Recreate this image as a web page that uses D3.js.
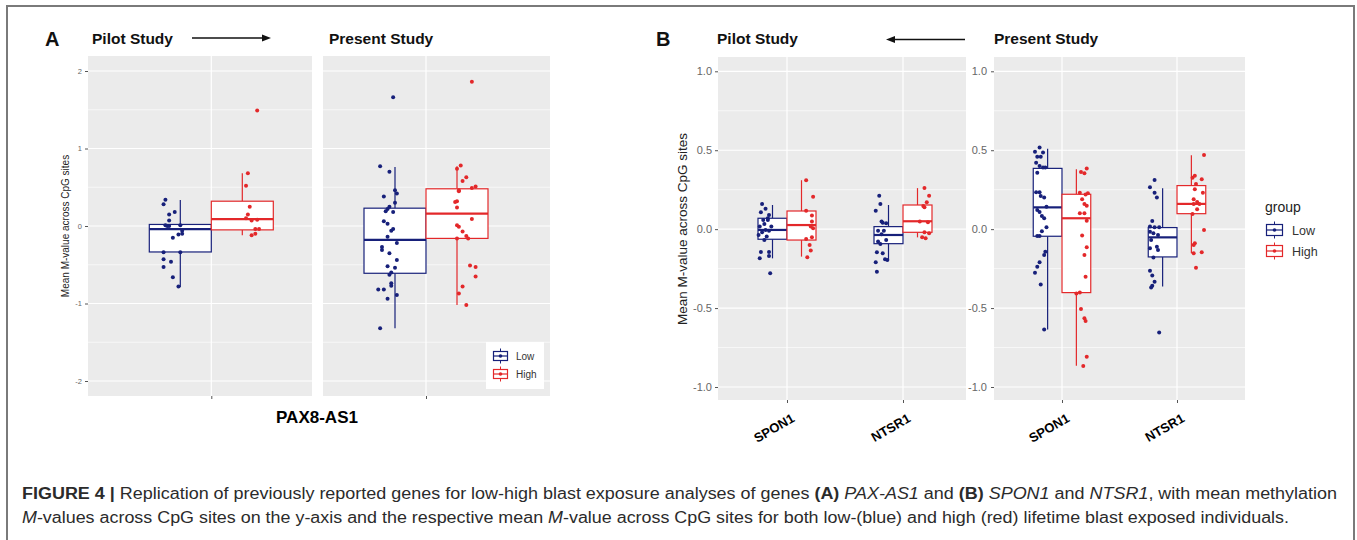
<!doctype html>
<html>
<head>
<meta charset="utf-8">
<script src="https://cdnjs.cloudflare.com/ajax/libs/d3/7.8.5/d3.min.js"></script>
<style>
  body { margin: 0; background: #fff; }
  svg { display: block; font-family: "Liberation Sans", Arial, sans-serif; }
</style>
<title>Figure 4</title>
</head>
<body>
<svg width="1357" height="540"></svg>
<script>
// ---- values ----
var groups = ["Low", "High"];
var genesB = ["SPON1", "NTSR1"];
var yTicksA = [-2, -1, 0, 1, 2];
var yMinorA = [-1.5, -0.5, 0.5, 1.5];
var yTicksB = [-1, -0.5, 0, 0.5, 1];
var yMinorB = [-0.75, -0.25, 0.25, 0.75];

// box stats: [lower whisker, Q1, median, Q3, upper whisker]
var paxPilotLowBox = [-0.79, -0.335, -0.04, 0.02, 0.335];
var paxPilotHighBox = [-0.12, -0.05, 0.09, 0.32, 0.68];
var paxPresentLowBox = [-1.32, -0.61, -0.18, 0.23, 0.76];
var paxPresentHighBox = [-1.02, -0.16, 0.16, 0.48, 0.77];
var spon1PilotLowBox = [-0.185, -0.064, -0.005, 0.069, 0.153];
var spon1PilotHighBox = [-0.174, -0.069, 0.026, 0.115, 0.31];
var ntsr1PilotLowBox = [-0.195, -0.092, -0.037, 0.016, 0.153];
var ntsr1PilotHighBox = [-0.052, -0.02, 0.05, 0.153, 0.26];
var spon1PresentLowBox = [-0.635, -0.045, 0.138, 0.385, 0.51];
var spon1PresentHighBox = [-0.865, -0.402, 0.069, 0.221, 0.379];
var ntsr1PresentLowBox = [-0.364, -0.176, -0.052, 0.01, 0.259];
var ntsr1PresentHighBox = [-0.153, 0.098, 0.16, 0.276, 0.468];

// jittered points: [jitter (category units), mean M-value]
var paxPilotLow = [[-0.08,0.34],[-0.09,0.28],[-0.03,0.18],[-0.06,0.15],[-0.06,0.07],[-0.08,0.01],[-0.07,0.00],[-0.06,0.00],[0.00,0.01],[0.01,-0.06],[0.01,-0.10],[-0.01,-0.11],[-0.04,-0.15],[-0.09,-0.34],[0.00,-0.34],[-0.09,-0.43],[-0.05,-0.46],[-0.09,-0.53],[-0.04,-0.66],[-0.01,-0.78]];
var paxPilotHigh = [[0.08,1.49],[0.03,0.68],[0.02,0.52],[0.04,0.25],[0.03,0.15],[0.02,0.10],[0.05,0.07],[0.08,0.08],[0.07,-0.04],[0.09,-0.04],[0.07,-0.10],[0.05,-0.12]];
var paxPresentLow = [[-0.01,1.66],[-0.08,0.77],[-0.03,0.70],[0,0.46],[0.01,0.42],[-0.06,0.38],[0,0.30],[-0.03,0.25],[-0.04,0.22],[-0.05,0.19],[-0.01,0.18],[-0.06,0.06],[-0.04,0.03],[-0.01,-0.04],[-0.02,-0.06],[-0.04,-0.14],[0.01,-0.22],[-0.07,-0.27],[-0.07,-0.31],[-0.03,-0.35],[0.01,-0.44],[-0.04,-0.52],[0,-0.54],[-0.03,-0.63],[-0.02,-0.60],[-0.02,-0.74],[-0.02,-0.77],[-0.09,-0.82],[-0.06,-0.82],[0.01,-0.89],[-0.04,-0.94],[-0.08,-1.32]];
var paxPresentHigh = [[0.08,1.86],[0.02,0.78],[0,0.74],[0.05,0.63],[0.03,0.58],[0.10,0.51],[0.08,0.49],[0.01,0.46],[0.01,0.45],[0,0.32],[-0.01,0.31],[0,0.24],[0.08,0.09],[0,0.01],[0.01,-0.01],[0.03,-0.07],[0.05,-0.13],[0.06,-0.16],[0,-0.16],[0.07,-0.51],[0.10,-0.53],[0.10,-0.65],[0.03,-0.78],[0.01,-0.87],[0.05,-1.02]];
var spon1PilotLow = [[-0.09,0.16],[-0.06,0.13],[-0.10,0.107],[-0.03,0.09],[-0.04,0.069],[-0.08,0.058],[-0.04,0.058],[-0.07,0.033],[-0.11,0.016],[-0.01,0.016],[-0.06,-0.005],[-0.03,-0.01],[-0.09,-0.02],[-0.12,-0.037],[-0.05,-0.047],[-0.07,-0.069],[-0.03,-0.145],[-0.10,-0.145],[-0.03,-0.17],[-0.11,-0.185],[-0.02,-0.28]];
var spon1PilotHigh = [[0.04,0.31],[0.10,0.206],[0.04,0.117],[0.09,0.086],[0.09,0.048],[0.08,0.016],[0.10,0.005],[0.04,-0.062],[0.09,-0.052],[0.07,-0.10],[0.08,-0.136],[0.05,-0.178]];
var ntsr1PilotLow = [[-0.08,0.212],[-0.07,0.16],[-0.11,0.117],[-0.06,0.048],[-0.05,0.041],[-0.02,0.037],[-0.09,-0.01],[-0.04,-0.01],[-0.06,-0.033],[-0.02,-0.069],[-0.09,-0.079],[-0.07,-0.094],[-0.10,-0.147],[-0.05,-0.153],[-0.01,-0.195],[-0.03,-0.19],[-0.11,-0.21],[-0.10,-0.27]];
var ntsr1PilotHigh = [[0.06,0.26],[0.10,0.212],[0.08,0.17],[0.05,0.147],[0.06,0.138],[0.02,0.048],[0.09,0.043],[0.06,-0.02],[0.10,-0.026],[0.04,-0.052],[0.07,-0.058]];
var spon1PresentLow = [[-0.07,0.518],[-0.11,0.491],[-0.04,0.485],[-0.09,0.459],[-0.06,0.459],[-0.10,0.42],[-0.07,0.40],[-0.04,0.39],[-0.02,0.39],[-0.09,0.357],[-0.10,0.233],[-0.07,0.233],[-0.06,0.21],[-0.03,0.20],[-0.01,0.142],[-0.09,0.121],[-0.07,0.109],[-0.05,0.083],[-0.03,0.069],[-0.01,0.012],[-0.05,-0.014],[-0.09,-0.043],[-0.07,-0.043],[-0.02,-0.143],[-0.03,-0.164],[-0.07,-0.21],[-0.09,-0.238],[-0.11,-0.276],[-0.06,-0.35],[-0.03,-0.635]];
var spon1PresentHigh = [[0.09,0.385],[0.04,0.362],[0.07,0.354],[0.03,0.231],[0.10,0.227],[0.08,0.219],[0.05,0.19],[0.07,0.16],[0.09,0.149],[0.03,0.10],[0.07,0.10],[0.09,0.054],[0.05,-0.041],[0.09,-0.115],[0.07,-0.164],[0.08,-0.301],[0.03,-0.402],[0,-0.407],[0.04,-0.506],[0.07,-0.565],[0.08,-0.582],[0.09,-0.808],[0.06,-0.867]];
var ntsr1PresentLow = [[-0.07,0.312],[-0.11,0.265],[-0.07,0.231],[-0.05,0.20],[-0.09,0.052],[-0.11,0.016],[-0.07,0.012],[-0.03,0.012],[-0.11,-0.016],[-0.08,-0.026],[-0.04,-0.037],[-0.10,-0.069],[-0.05,-0.111],[-0.11,-0.121],[-0.04,-0.132],[-0.08,-0.18],[-0.11,-0.263],[-0.09,-0.293],[-0.07,-0.333],[-0.09,-0.358],[-0.10,-0.369],[-0.03,-0.654]];
var ntsr1PresentHigh = [[0.11,0.47],[0.03,0.339],[0.01,0.326],[0.09,0.316],[0.04,0.286],[0.10,0.231],[0.03,0.252],[0.02,0.189],[0.05,0.172],[0.07,0.16],[0.02,0.16],[0.05,0.126],[0.01,0.096],[0.11,-0.005],[0.03,-0.09],[0.02,-0.10],[0.09,-0.147],[0.02,-0.153],[0.04,-0.244]];

var svg = d3.select("svg");
var colour = d3.scaleOrdinal().domain(groups).range(["#17207a", "#e3282a"]);

// figure frame
svg.append("path").attr("d", "M7,545V6H1354V545")
  .attr("fill", "none").attr("stroke", "#7a7a7a").attr("stroke-width", 2);

function drawPanel(p) {
  var g = svg.append("g");
  var x = d3.scaleLinear().domain([1, 2]).range(p.xRange);
  var y = d3.scaleLinear().domain(p.yDomain).range(p.yRange);

  g.append("rect")
    .attr("x", p.left).attr("y", p.top)
    .attr("width", p.right - p.left).attr("height", p.bottom - p.top)
    .attr("fill", "#ebebeb");

  g.selectAll(".minor").data(p.minor).enter().append("line")
    .attr("x1", p.left).attr("x2", p.right)
    .attr("y1", d => y(d)).attr("y2", d => y(d))
    .attr("stroke", "#fff").attr("stroke-width", 0.6);
  g.selectAll(".major").data(p.ticks).enter().append("line")
    .attr("x1", p.left).attr("x2", p.right)
    .attr("y1", d => y(d)).attr("y2", d => y(d))
    .attr("stroke", "#fff").attr("stroke-width", 1.2);
  g.selectAll(".vmajor").data(p.cats).enter().append("line")
    .attr("x1", d => x(d)).attr("x2", d => x(d))
    .attr("y1", p.top).attr("y2", p.bottom)
    .attr("stroke", "#fff").attr("stroke-width", 1.2);

  if (p.yAxis) {
    var ya = g.append("g").attr("transform", "translate(" + p.left + ",0)")
      .call(d3.axisLeft(y).tickValues(p.ticks).tickSize(3).tickPadding(p.tickPad)
        .tickFormat(p.fmt));
    ya.select(".domain").remove();
    ya.selectAll("line").attr("stroke", "#555");
    ya.selectAll("text").attr("fill", "#666").style("font-size", p.tickFont + "px")
      .style("font-family", "Liberation Sans, Arial, sans-serif");
  }

  var xa = g.append("g").attr("transform", "translate(0," + p.bottom + ")")
    .call(d3.axisBottom(x).tickValues(p.cats).tickSize(3)
      .tickFormat(p.catLabels ? (d => p.catLabels[d - 1]) : ""));
  xa.select(".domain").remove();
  xa.selectAll("line").attr("stroke", "#555");
  if (p.catLabels) {
    xa.selectAll("text")
      .attr("x", 0).attr("y", 0).attr("dy", 0)
      .attr("transform", "translate(8,21) rotate(-30)")
      .style("text-anchor", "end").style("font-size", "13px").style("font-weight", "bold")
      .style("font-family", "Liberation Sans, Arial, sans-serif").attr("fill", "#000");
  }

  p.boxes.forEach(function (b) {
    var c = colour(b.group);
    var sign = b.group === "Low" ? -1 : 1;
    var cx = b.cat + sign * p.dodge;
    var s = b.stats;
    g.append("line").attr("x1", x(cx)).attr("x2", x(cx))
      .attr("y1", y(s[0])).attr("y2", y(s[1])).attr("stroke", c).attr("stroke-width", 1.2);
    g.append("line").attr("x1", x(cx)).attr("x2", x(cx))
      .attr("y1", y(s[3])).attr("y2", y(s[4])).attr("stroke", c).attr("stroke-width", 1.2);
    g.append("rect")
      .attr("x", x(cx - p.dodge)).attr("y", y(s[3]))
      .attr("width", x(cx + p.dodge) - x(cx - p.dodge)).attr("height", y(s[1]) - y(s[3]))
      .attr("fill", "#fff").attr("stroke", c).attr("stroke-width", 1.2);
    g.append("line").attr("x1", x(cx - p.dodge)).attr("x2", x(cx + p.dodge))
      .attr("y1", y(s[2])).attr("y2", y(s[2])).attr("stroke", c).attr("stroke-width", 2.2);
    g.selectAll(null).data(b.pts).enter().append("circle")
      .attr("cx", d => x(cx + d[0])).attr("cy", d => y(d[1]))
      .attr("r", 2).attr("fill", c);
  });
}

function keySymbol(g, cx, cy, c, w, h) {
  g.append("line").attr("x1", cx).attr("x2", cx).attr("y1", cy - h / 2 - 3).attr("y2", cy + h / 2 + 3)
    .attr("stroke", c).attr("stroke-width", 1);
  g.append("rect").attr("x", cx - w / 2).attr("y", cy - h / 2).attr("width", w).attr("height", h)
    .attr("fill", "#fff").attr("stroke", c).attr("stroke-width", 1.2);
  g.append("line").attr("x1", cx - w / 2).attr("x2", cx + w / 2).attr("y1", cy).attr("y2", cy)
    .attr("stroke", c).attr("stroke-width", 1.2);
  g.append("circle").attr("cx", cx).attr("cy", cy).attr("r", 1.8).attr("fill", c);
}

// ---- panel A ----
var fmtA = d => String(d);
var fmtB = d => d.toFixed(1);
drawPanel({
  left: 88, right: 312, top: 56, bottom: 396, xRange: [211.3, 397.3],
  yDomain: [-2, 2], yRange: [381, 71], ticks: yTicksA, minor: yMinorA,
  cats: [1], dodge: 1 / 6, yAxis: true, tickPad: 3, tickFont: 7.5, fmt: fmtA,
  boxes: [
    { cat: 1, group: "Low", stats: paxPilotLowBox, pts: paxPilotLow },
    { cat: 1, group: "High", stats: paxPilotHighBox, pts: paxPilotHigh }
  ]
});
drawPanel({
  left: 323, right: 550, top: 56, bottom: 396, xRange: [426, 612],
  yDomain: [-2, 2], yRange: [381, 71], ticks: yTicksA, minor: yMinorA,
  cats: [1], dodge: 1 / 6, yAxis: false,
  boxes: [
    { cat: 1, group: "Low", stats: paxPresentLowBox, pts: paxPresentLow },
    { cat: 1, group: "High", stats: paxPresentHighBox, pts: paxPresentHigh }
  ]
});

// ---- panel B ----
drawPanel({
  left: 718, right: 966, top: 57, bottom: 400, xRange: [787, 903],
  yDomain: [-1, 1], yRange: [387, 71.3], ticks: yTicksB, minor: yMinorB,
  cats: [1, 2], catLabels: genesB, dodge: 0.125, yAxis: true, tickPad: 3, tickFont: 11, fmt: fmtB,
  boxes: [
    { cat: 1, group: "Low", stats: spon1PilotLowBox, pts: spon1PilotLow },
    { cat: 1, group: "High", stats: spon1PilotHighBox, pts: spon1PilotHigh },
    { cat: 2, group: "Low", stats: ntsr1PilotLowBox, pts: ntsr1PilotLow },
    { cat: 2, group: "High", stats: ntsr1PilotHighBox, pts: ntsr1PilotHigh }
  ]
});
drawPanel({
  left: 994, right: 1245, top: 57, bottom: 400, xRange: [1062, 1177],
  yDomain: [-1, 1], yRange: [387, 71.3], ticks: yTicksB, minor: yMinorB,
  cats: [1, 2], catLabels: genesB, dodge: 0.125, yAxis: true, tickPad: 4, tickFont: 11, fmt: fmtB,
  boxes: [
    { cat: 1, group: "Low", stats: spon1PresentLowBox, pts: spon1PresentLow },
    { cat: 1, group: "High", stats: spon1PresentHighBox, pts: spon1PresentHigh },
    { cat: 2, group: "Low", stats: ntsr1PresentLowBox, pts: ntsr1PresentLow },
    { cat: 2, group: "High", stats: ntsr1PresentHighBox, pts: ntsr1PresentHigh }
  ]
});

// y axis titles
svg.append("text").attr("transform", "translate(69,226) rotate(-90)")
  .attr("text-anchor", "middle").style("font-size", "10px").attr("fill", "#222")
  .text("Mean M-value across CpG sites");
svg.append("text").attr("transform", "translate(687,229) rotate(-90)")
  .attr("text-anchor", "middle").style("font-size", "13.5px").attr("fill", "#222")
  .text("Mean M-value across CpG sites");

// x title panel A
svg.append("text").attr("x", 317).attr("y", 423).attr("text-anchor", "middle")
  .style("font-size", "17px").style("font-weight", "bold").text("PAX8-AS1");

// panel letters, study titles, arrows
var heads = [
  { t: "A", x: 45, y: 46, size: 20 }, { t: "Pilot Study", x: 92, y: 44, size: 15.5 }, { t: "Present Study", x: 329, y: 44, size: 15.5 },
  { t: "B", x: 656, y: 46, size: 20 }, { t: "Pilot Study", x: 717, y: 44, size: 15.5 }, { t: "Present Study", x: 994, y: 44, size: 15.5 }
];
svg.selectAll(".head").data(heads).enter().append("text")
  .attr("x", d => d.x).attr("y", d => d.y)
  .style("font-size", d => d.size + "px").style("font-weight", "bold").attr("fill", "#111")
  .text(d => d.t);

function arrow(x1, x2, yy) {
  var dir = x2 > x1 ? 1 : -1;
  svg.append("line").attr("x1", x1).attr("x2", x2 - dir * 6).attr("y1", yy).attr("y2", yy)
    .attr("stroke", "#111").attr("stroke-width", 1.3);
  svg.append("path")
    .attr("d", "M" + x2 + "," + yy + "L" + (x2 - dir * 9) + "," + (yy - 3.5) + "L" + (x2 - dir * 9) + "," + (yy + 3.5) + "Z")
    .attr("fill", "#111");
}
arrow(192, 271, 38);
arrow(965, 886, 39.5);

// legend A (inside present panel)
var legA = svg.append("g");
legA.append("rect").attr("x", 486).attr("y", 342).attr("width", 58).attr("height", 47).attr("fill", "#fff");
groups.forEach(function (grp, i) {
  var cy = 356 + i * 18;
  keySymbol(legA, 500.5, cy, colour(grp), 14, 9);
  legA.append("text").attr("x", 516).attr("y", cy + 3.5).style("font-size", "10px").attr("fill", "#333").text(grp);
});

// legend B
var legB = svg.append("g");
legB.append("text").attr("x", 1265).attr("y", 212).style("font-size", "14px").attr("fill", "#222").text("group");
groups.forEach(function (grp, i) {
  var cy = 230 + i * 21;
  keySymbol(legB, 1274.5, cy, colour(grp), 16, 11);
  legB.append("text").attr("x", 1292).attr("y", cy + 4.5).style("font-size", "12.5px").attr("fill", "#333").text(grp);
});

// caption
var cap1 = svg.append("text").attr("x", 22).attr("y", 499)
  .attr("textLength", 1315).attr("lengthAdjust", "spacingAndGlyphs")
  .style("font-size", "16px").attr("fill", "#2b2b2b");
cap1.append("tspan").style("font-weight", "bold").text("FIGURE 4 | ");
cap1.append("tspan").text("Replication of previously reported genes for low-high blast exposure analyses of genes ");
cap1.append("tspan").style("font-weight", "bold").text("(A) ");
cap1.append("tspan").style("font-style", "italic").text("PAX-AS1");
cap1.append("tspan").text(" and ");
cap1.append("tspan").style("font-weight", "bold").text("(B) ");
cap1.append("tspan").style("font-style", "italic").text("SPON1");
cap1.append("tspan").text(" and ");
cap1.append("tspan").style("font-style", "italic").text("NTSR1");
cap1.append("tspan").text(", with mean methylation");

var cap2 = svg.append("text").attr("x", 22).attr("y", 523)
  .attr("textLength", 1267).attr("lengthAdjust", "spacingAndGlyphs")
  .style("font-size", "16px").attr("fill", "#2b2b2b");
cap2.append("tspan").style("font-style", "italic").text("M");
cap2.append("tspan").text("-values across CpG sites on the y-axis and the respective mean ");
cap2.append("tspan").style("font-style", "italic").text("M");
cap2.append("tspan").text("-value across CpG sites for both low-(blue) and high (red) lifetime blast exposed individuals.");
</script>
</body>
</html>
